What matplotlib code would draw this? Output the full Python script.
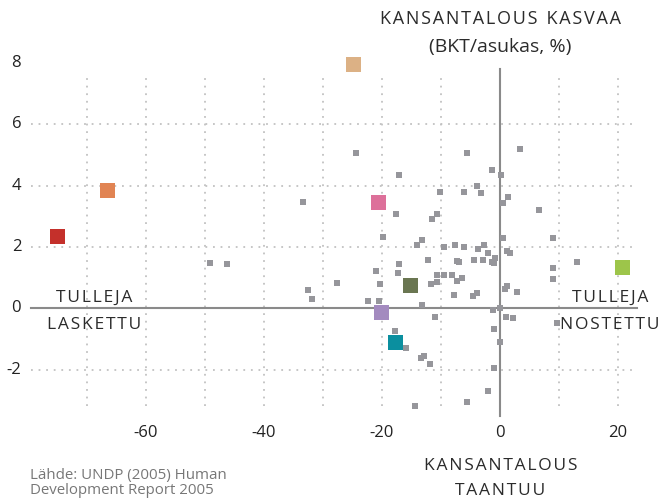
import matplotlib
matplotlib.use("Agg")
import matplotlib.pyplot as plt

plt.rcParams['font.family'] = ['Open Sans', 'DejaVu Sans']

# small gray squares (x: tullien muutos, y: BKT/asukas %)
gray_x = [-33.3, -49.1, -46.3, -32.5, -31.8,
          -24.4, -17.1, -17.6, -11.5, -10.6, -10.2,
          -5.5, 3.4, -1.3, 0.2, -3.9, -3.2, -6.1, 0.5, 1.4, 6.6,
          -19.7, -13.1, -14.0, -12.2, -17.1, -21.0, -17.2, -27.6, -20.3,
          -10.6, -11.6, -10.6, -22.3, -20.5, -13.2, -11.0,
          0.6, -9.5, -7.6, -6.1, -3.6, -2.7, -2.0, -0.8, 1.3, 1.8,
          -7.3, -6.9, -4.4, -2.8, -1.3, -0.9, -9.5, -8.0, -6.4, -7.3,
          1.2, 0.9, 2.9, -7.8, -3.9, -4.6, -1.1, 0.0, 1.1, 2.3,
          -17.8, -15.8, -12.9, -13.4, -11.8, -0.9, 0.1, -0.9, -2.0, -5.5, -14.4,
          9.0, 9.0, 9.0, 13.1, 9.7]
gray_y = [3.48, 1.47, 1.44, 0.60, 0.30,
          5.07, 4.36, 3.07, 2.92, 3.08, 3.79,
          5.07, 5.20, 4.52, 4.36, 4.00, 3.77, 3.80, 3.44, 3.64, 3.21,
          2.34, 2.24, 2.06, 1.59, 1.45, 1.23, 1.16, 0.84, 0.79,
          1.09, 0.79, 0.87, 0.25, 0.24, 0.11, -0.28,
          2.30, 2.00, 2.06, 2.00, 1.93, 2.06, 1.81, 1.64, 1.88, 1.80,
          1.55, 1.52, 1.59, 1.59, 1.52, 1.49, 1.09, 1.09, 1.00, 0.90,
          0.74, 0.64, 0.54, 0.44, 0.51, 0.41, -0.06, 0.00, -0.28, -0.32,
          -0.73, -1.28, -1.55, -1.61, -1.81, -0.66, -1.10, -1.94, -2.69, -3.05, -3.18,
          2.29, 1.32, 0.97, 1.52, -0.49]

# highlighted countries
hl_x = [-75.0, -66.5, -24.8, -20.6, -15.2, -20.1, -17.7, 20.8]
hl_y = [2.35, 3.85, 7.96, 3.46, 0.75, -0.13, -1.11, 1.34]
hl_colors = ['#c4302b', '#e18453', '#dcb185', '#dd709a',
             '#6a7651', '#a38abf', '#0b8f9f', '#9dc54a']

x_ticks = [-60, -40, -20, 0, 20]
y_ticks = [8, 6, 4, 2, 0, -2]
x_grid = [-70, -60, -50, -40, -30, -20, -10, 10, 20]
y_grid = [6, 4, 2, -2]

fig = plt.figure(figsize=(6.6, 5.0), dpi=100)
ax = fig.add_axes([0, 0, 1, 1])
ax.set_xlim(-84.69, 27.17)
ax.set_ylim(-6.25, 10.05)
ax.axis('off')

# dotted grid
ax.vlines(x_grid, -3.2, 7.5, colors='#c2c2c2', linestyles=(0, (1, 3.2)), lw=1.3, zorder=1)
ax.hlines(y_grid, -79.4, 23.3, colors='#c2c2c2', linestyles=(0, (1, 3.2)), lw=1.3, zorder=1)

# axes through origin
ax.plot([-79.4, 23.3], [0, 0], color='#8a8a8a', lw=1.5, zorder=2)
ax.plot([0, 0], [-3.5, 7.8], color='#8a8a8a', lw=1.5, zorder=2)

ax.plot(gray_x, gray_y, 's', ms=4.3, mew=0, color='#96969b', zorder=3)
for x, y, c in zip(hl_x, hl_y, hl_colors):
    ax.plot(x, y, 's', ms=10.8, mew=0, color=c, zorder=4)

for t in y_ticks:
    ax.text(-81.1, t, str(t), ha='right', va='center', fontsize=12, color='#222222')
for t in x_ticks:
    ax.text(t, -4.07, str(t), ha='center', va='center', fontsize=12, color='#222222')

def spaced(s):
    return '\u200a'.join(s)

tc = '#2b2b2b'
ax.text(0.2, 9.43, spaced('KANSANTALOUS') + '\u2002' + spaced('KASVAA'),
        ha='center', va='center', fontsize=13, color=tc)
ax.text(0.1, 8.53, '(BKT/asukas, %)', ha='center', va='center', fontsize=14, color=tc)
ax.text(0.1, -5.14, spaced('KANSANTALOUS'), ha='center', va='center', fontsize=12.5, color=tc)
ax.text(0.1, -5.95, spaced('TAANTUU'), ha='center', va='center', fontsize=12.5, color=tc)
ax.text(-68.8, 0.35, spaced('TULLEJA'), ha='center', va='center', fontsize=12.5, color=tc)
ax.text(-68.8, -0.55, spaced('LASKETTU'), ha='center', va='center', fontsize=12.5, color=tc)
ax.text(18.75, 0.35, spaced('TULLEJA'), ha='center', va='center', fontsize=12.5, color=tc)
ax.text(18.7, -0.55, spaced('NOSTETTU'), ha='center', va='center', fontsize=12.5, color=tc)

ax.text(-79.6, -5.21, 'Lähde: UNDP (2005) Human\nDevelopment Report 2005',
        ha='left', va='top', fontsize=10.8, color='#777777', linespacing=1.0)

fig.savefig('out.png', dpi=100)
